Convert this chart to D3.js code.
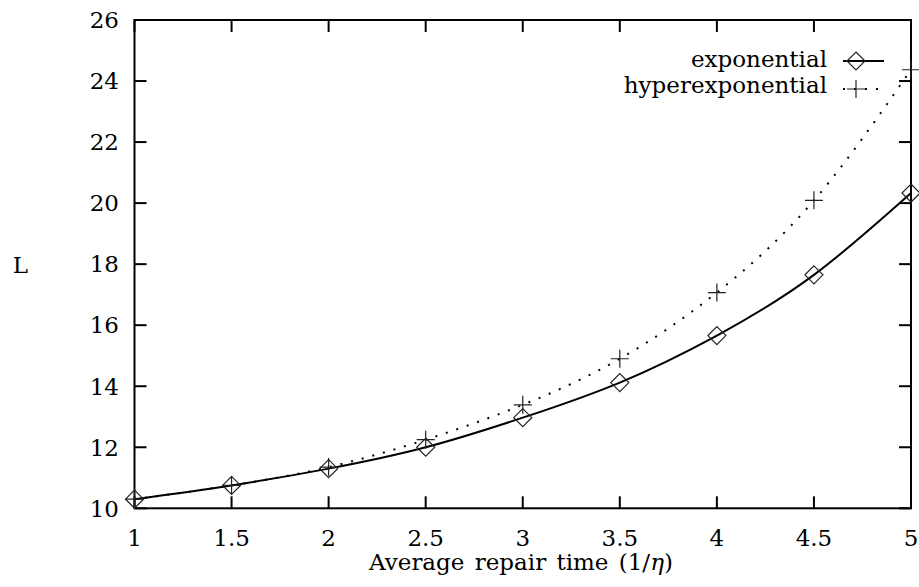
<!DOCTYPE html>
<html><head><meta charset="utf-8">
<script src="https://cdn.jsdelivr.net/npm/d3@7"></script>
<style>body{margin:0;background:#fff}</style>
</head><body><svg id="c" width="919" height="587"></svg>
<script>
const xValues = [1, 1.5, 2, 2.5, 3, 3.5, 4, 4.5, 5];
const exponential = [10.3, 10.75, 11.3, 12.0, 12.97, 14.12, 15.66, 17.65, 20.33];
const hyperexponential = [10.3, 10.75, 11.35, 12.25, 13.39, 14.9, 17.07, 20.09, 24.37];
const xTicks = [1, 1.5, 2, 2.5, 3, 3.5, 4, 4.5, 5];
const yTicks = [10, 12, 14, 16, 18, 20, 22, 24, 26];
const seriesNames = ["exponential", "hyperexponential"];

const FONT = "'DejaVu Serif', 'Liberation Serif', serif";
const svg = d3.select("#c").attr("font-family", FONT);
const L = 134.5, R = 911, T = 20, B = 508.3;
const x = d3.scaleLinear().domain([1, 5]).range([L, R]);
const y = d3.scaleLinear().domain([10, 26]).range([B, T]);
const fs = 23;

// ticks (inward, mirrored)
const tk = 12;
const g = svg.append("g").attr("stroke", "#000").attr("stroke-width", 2);
xTicks.forEach(v => {
  g.append("line").attr("x1", x(v)).attr("x2", x(v)).attr("y1", B).attr("y2", B - tk);
  g.append("line").attr("x1", x(v)).attr("x2", x(v)).attr("y1", T).attr("y2", T + tk);
});
yTicks.forEach(v => {
  g.append("line").attr("x1", L).attr("x2", L + tk).attr("y1", y(v)).attr("y2", y(v));
  g.append("line").attr("x1", R).attr("x2", R - tk).attr("y1", y(v)).attr("y2", y(v));
});
svg.append("rect").attr("x", L).attr("y", T).attr("width", R - L).attr("height", B - T)
  .attr("fill", "none").attr("stroke", "#000").attr("stroke-width", 2);

function txt(xp, yp, anchor, s) {
  return svg.append("text").attr("x", xp).attr("y", yp).attr("text-anchor", anchor)
    .attr("font-family", FONT).attr("font-size", fs).attr("fill", "#000").text(s);
}
xTicks.forEach(v => txt(x(v), 546, "middle", String(v)));
yTicks.forEach(v => txt(119, y(v), "end", String(v)).attr("dy", "0.36em"));

txt(521, 570, "middle", "").attr("word-spacing", 3)
  .html('Average repair time (1/<tspan font-style="italic">η</tspan>)');
txt(20.5, 273, "middle", "L");

const line = d3.line().x((d, i) => x(xValues[i])).y(d => y(d)).curve(d3.curveNatural);

svg.append("path").attr("d", line(hyperexponential)).attr("fill", "none").attr("stroke", "#000")
  .attr("stroke-width", 2).attr("stroke-dasharray", "2,9");
svg.append("path").attr("d", line(exponential)).attr("fill", "none").attr("stroke", "#000")
  .attr("stroke-width", 2);

const ds = 9;
function diamond(cx, cy) {
  svg.append("path").attr("d", `M${cx},${cy - ds}L${cx + ds},${cy}L${cx},${cy + ds}L${cx - ds},${cy}Z`)
    .attr("fill", "none").attr("stroke", "#222").attr("stroke-width", 1.2);
}
function cross(cx, cy) {
  svg.append("path").attr("d", `M${cx - ds},${cy}H${cx + ds}M${cx},${cy - ds}V${cy + ds}`)
    .attr("fill", "none").attr("stroke", "#222").attr("stroke-width", 1.2);
}
exponential.forEach((v, i) => diamond(x(xValues[i]), y(v)));
hyperexponential.forEach((v, i) => cross(x(xValues[i]), y(v)));

// legend
const ly = [61, 89];
txt(827, 67, "end", seriesNames[0]);
txt(827, 93, "end", seriesNames[1]);
svg.append("line").attr("x1", 843).attr("x2", 884).attr("y1", ly[0]).attr("y2", ly[0])
  .attr("stroke", "#000").attr("stroke-width", 2);
svg.append("line").attr("x1", 843).attr("x2", 884).attr("y1", ly[1]).attr("y2", ly[1])
  .attr("stroke", "#000").attr("stroke-width", 2).attr("stroke-dasharray", "2,9");
diamond(856, ly[0]);
cross(856, ly[1]);
</script></body></html>
